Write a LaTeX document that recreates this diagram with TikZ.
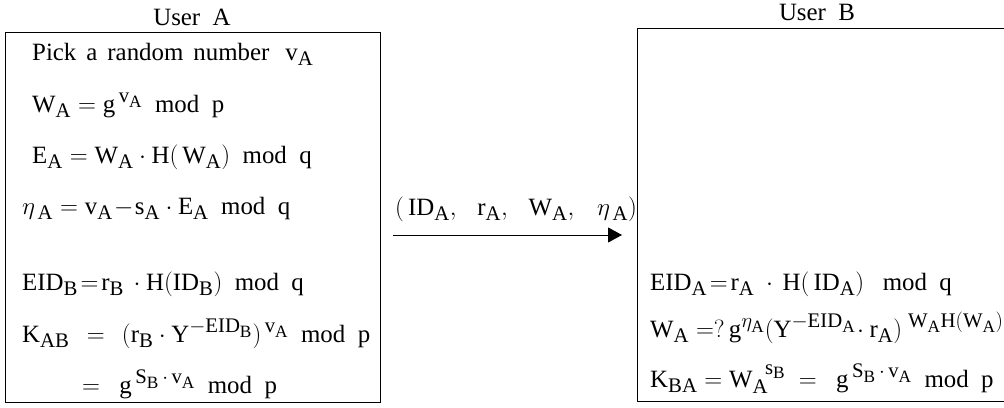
\documentclass[tikz,border=0pt]{standalone}
\usepackage{fontspec}
\setmainfont{Liberation Serif}
\usetikzlibrary{arrows.meta}
\newcommand{\wsp}{\hspace{10pt}}
\begin{document}
\begin{tikzpicture}[x=1pt,y=-1pt,
  txt/.style={anchor=base west,inner sep=0pt,font=\fontsize{24.88}{30}\selectfont},
  ttl/.style={anchor=base,inner sep=0pt,font=\fontsize{24.88}{30}\selectfont},
  frame/.style={line width=0.9pt},
  msg/.style={line width=0.9pt,-{Triangle[length=14pt,width=15pt]}}]
\useasboundingbox (0,0) rectangle (1004,407);
% titles
\node[ttl] (ua) at (192,25) {User\ \ A};
\node[ttl] (ub) at (817,20) {User\ \ B};
% boxes
\draw[frame] (5,32) rectangle (380,402);
\draw[frame] (1010,28) -- (637,28) -- (637,401) -- (1010,401);
% user A
\node[txt] (a1) at (32,60) {Pick\wsp a\wsp random\wsp number\hspace{16pt}$\mathrm{v_A}$};
\node[txt] (a2) at (32,112) {$\mathrm{W_A=g^{\,v_A}}$\ \ mod\ \ p};
\node[txt] (a3) at (32,163) {$\mathrm{E_A=W_A\cdot H(\,W_A)}$\ \ mod\ \ q};
\node[txt] (a4) at (22,214) {$\eta_{\,\mathrm{A}}=\mathrm{v_A\!-\!s_A\cdot E_A}$\ \ mod\ \ q};
\node[txt] (a5) at (22,290) {$\mathrm{EID_B\!=\!r_B\,\cdot H(ID_B)}$\ \ mod\ \ q};
\node[txt] (a6) at (22,342) {$\mathrm{K_{AB}\ \,=\ \,(r_B\cdot Y^{-EID_B})^{\,v_A}}$\ \ mod\ \ p};
\node[txt] (a7) at (82,393) {$=\ \ \mathrm{g^{\,S_B\,\cdot\,v_A}}$\ \ mod\ \ p};
% message
\node[txt] (m) at (395,215) {$(\,\mathrm{ID_A},\ \ \,\mathrm{r_A},\ \ \,\mathrm{W_A},\ \ \ \eta_{\,\mathrm{A}})$};
\coordinate (ms) at (393,235);
\coordinate (me) at (622,235);
\draw[msg] (ms) -- (me);
% user B
\node[txt] (b1) at (650,290) {$\mathrm{EID_A\!=\!r_A\ \cdot\, H(\,ID_A)}$\ \ \ mod\ \ q};
\node[txt] (b2) at (650,337) {$\mathrm{W_A=?\,g^{\eta_{A}}(Y^{-EID_A}\!\cdot r_A)^{\kern6pt W_AH(W_A)}}$};
\node[txt] (b3) at (650,387) {$\mathrm{K_{BA}=W_A^{\ \ s_B}\ =\ \ g^{\,S_B\,\cdot\,v_A}}$\ \ mod\ \ p};
\end{tikzpicture}
\end{document}
